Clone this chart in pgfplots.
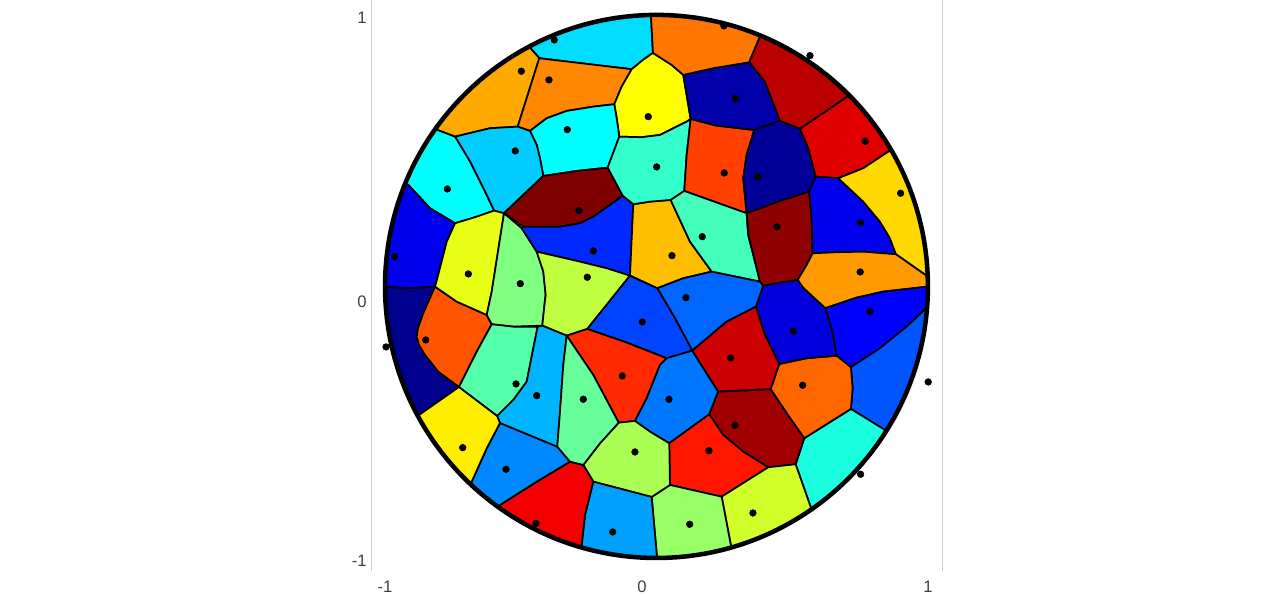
\documentclass[border=0pt]{standalone}
\usepackage{fontspec}
\setmainfont{Liberation Sans}
\usepackage{pgfplots}
\pgfplotsset{compat=1.18}

% one filled cell: r, g, b, outline (read off in image pixels, the filters map them to data units)
\newcommand\cell[4]{\addplot[fill={rgb,255:red,#1;green,#2;blue,#3},draw=black,line width=1.3pt,line join=round,forget plot] coordinates {#4} -- cycle;}

\begin{document}
\begin{tikzpicture}
\useasboundingbox (0,0) rectangle (954.75pt,446.25pt);
\begin{axis}[
  at={(278.6pt,18pt)}, anchor=south west,
  scale only axis, width=427.9pt, height=428.25pt,
  xmin=-1.05, xmax=1.052, ymin=-1.048, ymax=1.055,
  x filter/.expression={(x-656.5)/271.5},
  y filter/.expression={(286.5-y)/271.5},
  xtick={-1,-0.053,1}, xticklabels={-1,0,1},
  ytick={-1.007,-0.053,0.996}, yticklabels={-1,0,1},
  xtick pos=bottom, ytick pos=left,
  tick style={draw=none},
  separate axis lines,
  x axis line style={draw=none},
  y axis line style={draw=black!20,line width=0.7pt},
  axis on top,
  ticklabel style={font=\fontsize{12.5}{14}\selectfont,text=black!75},
  xticklabel style={yshift=-3.8pt},
  yticklabel style={xshift=0pt,yshift=-1pt},
]
% top ring of cells
\cell{0}{221}{255}{(530,47.7)(504.7,0)(650,-38)(651,16)(653,53)(643,60)(631.7,69.3)(539.3,58.3)}
\cell{255}{170}{0}{(530,47.7)(539.3,58.3)(517.7,126.7)(490,128.3)(455,136.7)(437.3,130)(393.5,98.7)(504.7,0)}
\cell{255}{136}{0}{(539.3,58.3)(631.7,69.3)(621.7,86.7)(614.3,104.3)(593.3,106.7)(566.7,111)(546.7,118.3)(530,131)(517.7,126.7)}
\cell{255}{255}{0}{(653,53)(643,60)(631.7,69.3)(621.7,86.7)(614.3,104.3)(616.7,118.3)(619.3,136.7)(641.7,137.3)(660,135)(670,130)(686.7,121.7)(690.7,119)(683.3,75)(671.7,65)}
\cell{0}{255}{255}{(530,131)(546.7,118.3)(566.7,111)(593.3,106.7)(614.3,104.3)(616.7,118.3)(619.3,136.7)(607.7,167.7)(576.7,171)(543.3,176)(540,158.3)(536.7,145)}
\cell{0}{204}{255}{(455,136.7)(490,128.3)(517.7,126.7)(530,131)(536.7,145)(540,158.3)(543.3,176)(526.7,191.7)(504,213.3)(494,210.7)(483.3,188.3)(470,161.7)}
\cell{0}{255}{255}{(437.3,130)(455,136.7)(470,161.7)(483.3,188.3)(494,210.7)(476.7,216.7)(455,223.3)(430,208.3)(408.3,185)(358.7,164.7)(393.5,98.7)}
\cell{0}{0}{238}{(408.3,185)(430,208.3)(455,223.3)(446.7,241.7)(437.3,278.3)(435,286.7)(410,288.3)(386,287)(332,287)(358.7,164.7)}
\cell{0}{0}{143}{(386,287)(410,288.3)(435,286.7)(423.3,313.3)(418,328)(416.7,337)(419,345)(425,355)(438.3,371.7)(459,387)(420,414.3)(372.7,439.9)(332,287)}
\cell{255}{85}{0}{(435,286.7)(456.7,301.7)(486.7,315)(491.7,324.3)(476.7,351.7)(459,387)(438.3,371.7)(425,355)(419,345)(416.7,337)(418,328)(423.3,313.3)}
\cell{230}{255}{20}{(494,210.7)(476.7,216.7)(455,223.3)(446.7,241.7)(437.3,278.3)(435,286.7)(456.7,301.7)(486.7,315)(491.7,291.7)(504,213.3)}
\cell{128}{255}{128}{(504,213.3)(521.7,228.3)(536.7,251.7)(543.3,271.7)(545.7,295)(545,300)(542.3,325.7)(513.3,326.7)(491.7,324.3)(486.7,315)(491.7,291.7)}
\cell{128}{0}{0}{(504,213.3)(526.7,191.7)(543.3,176)(576.7,171)(607.7,167.7)(622.7,195.7)(606.7,207.3)(593.3,216.7)(580,223.3)(560,226.7)(523.3,226.7)}
\cell{0}{40}{255}{(523.3,226.7)(560,226.7)(580,223.3)(593.3,216.7)(606.7,207.3)(622.7,195.7)(633.3,204.3)(630,275.7)(606.7,268.3)(580,261.7)(536.7,251.7)(521.7,228.3)}
\cell{191}{255}{64}{(536.7,251.7)(580,261.7)(606.7,268.3)(630,275.7)(587.3,329)(566.7,335.7)(542.3,325.7)(545,300)(545.7,295)(543.3,271.7)}
\cell{255}{191}{0}{(633.3,204.3)(650,201.7)(670.7,200)(690,241.7)(711.7,271.7)(683.3,278.3)(657.3,288.3)(630,275.7)}
\cell{51}{255}{204}{(619.3,136.7)(641.7,137.3)(660,135)(670,130)(686.7,121.7)(690.7,119)(686.7,155)(684.3,191)(670.7,200)(650,201.7)(633.3,204.3)(622.7,195.7)(607.7,167.7)}
\cell{255}{64}{0}{(690.7,119)(716.7,125.7)(754.3,130)(746.7,155)(743.3,178.3)(746.7,213.3)(684.3,191)(686.7,155)}
\cell{68}{255}{187}{(684.3,191)(746.7,213.3)(748.3,235)(760,281.7)(711.7,271.7)(690,241.7)(670.7,200)}
\cell{0}{0}{170}{(683.3,75)(713.3,68.3)(749.3,62.3)(765,81.7)(780,121)(754.3,130)(716.7,125.7)(690.7,119)}
\cell{255}{119}{0}{(651,16)(650,-38)(780.7,-13.3)(760,36.7)(749.3,62.3)(713.3,68.3)(683.3,75)(671.7,65)(653,53)}
\cell{187}{0}{0}{(760,36.7)(780.7,-13.3)(887.5,57.5)(849,95.7)(800,129)(780,121)(765,81.7)(749.3,62.3)}
\cell{224}{0}{0}{(849,95.7)(887.5,57.5)(936.7,123.5)(890,150.7)(863.3,168.3)(838.3,178.3)(815.7,176.7)(808.3,148.3)(800,129)}
\cell{0}{0}{153}{(754.3,130)(780,121)(800,129)(808.3,148.3)(815.7,176.7)(809.3,191.7)(783.3,200)(746.7,213.3)(743.3,178.3)(746.7,155)}
\cell{143}{0}{0}{(746.7,213.3)(783.3,200)(809.3,191.7)(811.7,218.3)(812.7,253.3)(806.7,265)(797.7,280)(763.3,285.7)(760,281.7)(748.3,235)}
\cell{0}{0}{238}{(815.7,176.7)(838.3,178.3)(863.3,201.7)(880,221.7)(890,238.3)(896,254.3)(863.3,251.7)(836.7,252.3)(812.7,253.3)(811.7,218.3)(809.3,191.7)}
\cell{255}{216}{0}{(890,150.7)(936.7,123.5)(981,274)(927,276)(896,254.3)(890,238.3)(880,221.7)(863.3,201.7)(838.3,178.3)(863.3,168.3)}
\cell{255}{153}{0}{(812.7,253.3)(836.7,252.3)(863.3,251.7)(896,254.3)(927,276)(981,274)(981.5,286.7)(927.3,286.7)(883.3,291.7)(856.7,297.7)(825.3,308.3)(803.3,288)(797.7,280)(806.7,265)}
% lower half
\cell{0}{0}{255}{(825.3,308.3)(856.7,297.7)(883.3,291.7)(927.3,286.7)(981.5,286.7)(982.3,310.7)(928,306.7)(906.7,326.7)(880,348.3)(851,367.3)(836.7,355.7)(831.7,328.3)}
\cell{0}{85}{255}{(928,306.7)(982.3,310.7)(930.7,458.7)(885,430)(851,409)(852.7,388.3)(851,367.3)(880,348.3)(906.7,326.7)}
\cell{26}{255}{224}{(851,409)(885,430)(930.7,458.7)(842,552)(811,507.7)(795.7,464.3)(804.3,438.3)}
\cell{255}{102}{0}{(779.3,364)(806.7,358.3)(836.7,355.7)(851,367.3)(852.7,388.3)(851,409)(804.3,438.3)(786.7,413.3)(770.7,389.3)}
\cell{0}{0}{221}{(763.3,285.7)(797.7,280)(803.3,288)(825.3,308.3)(831.7,328.3)(836.7,355.7)(806.7,358.3)(779.3,364)(765,335)(756,306.7)}
\cell{0}{102}{255}{(657.3,288.3)(683.3,278.3)(711.7,271.7)(760,281.7)(763.3,285.7)(756,306.7)(726.7,321.7)(692.3,350.7)(675,318.3)}
\cell{0}{68}{255}{(630,275.7)(657.3,288.3)(675,318.3)(692.3,350.7)(666.7,358.3)(625,342)(587.3,329)}
\cell{255}{42}{0}{(566.7,335.7)(587.3,329)(625,342)(666.7,358.3)(660,365)(646.7,398.3)(635,421)(618.7,422.7)(593.3,375)}
\cell{0}{119}{255}{(666.7,358.3)(692.3,350.7)(718.3,391.7)(709.3,414.3)(669.3,443.3)(650,431.7)(635,421)(646.7,398.3)(660,365)}
\cell{204}{0}{0}{(692.3,350.7)(726.7,321.7)(756,306.7)(765,335)(779.3,364)(770.7,389.3)(718.3,391.7)}
\cell{160}{0}{0}{(718.3,391.7)(770.7,389.3)(786.7,413.3)(804.3,438.3)(795.7,464.3)(768.3,467.3)(743.3,451.7)(723.3,435)(709.3,414.3)}
\cell{255}{21}{0}{(709.3,414.3)(723.3,435)(743.3,451.7)(768.3,467.3)(721.7,496.7)(670,485)(669.3,443.3)}
\cell{208}{255}{42}{(721.7,496.7)(768.3,467.3)(795.7,464.3)(811,507.7)(842,552)(746,597.5)(731,545.7)}
\cell{153}{255}{102}{(670,485)(721.7,496.7)(731,545.7)(746,597.5)(657,611)(657,557)(651.7,497)}
\cell{170}{255}{85}{(618.7,422.7)(635,421)(650,431.7)(669.3,443.3)(670,485)(651.7,497)(593.3,481.7)(583.3,465)(600,443.3)}
\cell{0}{160}{255}{(593.3,481.7)(651.7,497)(657,557)(657,611)(566.7,596.7)(581.7,545)(585,515)}
\cell{245}{0}{0}{(570,461.7)(583.3,465)(593.3,481.7)(585,515)(581.7,545)(566.7,596.7)(468.7,548.7)(500,505)(536.7,481.7)}
\cell{0}{136}{255}{(500,423)(557.3,446.7)(570,461.7)(536.7,481.7)(500,505)(468.7,548.7)(434.7,520.7)(471.7,481.7)(486.7,448.3)}
\cell{255}{238}{0}{(459,387)(497.3,416)(500,423)(486.7,448.3)(471.7,481.7)(434.7,520.7)(372.7,439.9)(420,414.3)}
\cell{85}{255}{170}{(491.7,324.3)(513.3,326.7)(537.7,326.7)(533.3,348.3)(526.7,381.7)(513.3,400)(497.3,416)(459,387)(476.7,351.7)}
\cell{0}{180}{255}{(537.7,326.7)(542.3,325.7)(566.7,335.7)(563.3,365)(560,411.7)(557.3,446.7)(500,423)(497.3,416)(513.3,400)(526.7,381.7)(533.3,348.3)}
\cell{102}{255}{153}{(566.7,335.7)(593.3,375)(618.7,422.7)(600,443.3)(583.3,465)(570,461.7)(557.3,446.7)(560,411.7)(563.3,365)}
% everything outside the disc, then its rim
\fill[white,even odd rule] (axis cs:-2,-2) rectangle (axis cs:2,2) (axis cs:0,0) circle[radius=1];
\draw[black,line width=3.4pt] (axis cs:0,0) circle[radius=1];
% sample points
\addplot[only marks,mark=*,mark size=2.5pt,black,forget plot] coordinates {
(554.3,40)(521.3,71.3)(549,80)(567.3,129.7)(515.3,151)(648.3,116.7)(656.7,167)(447.3,189)(579,210.7)(593.3,251)
(394.7,256.7)(468.3,274)(520.3,283.7)(587.3,277.3)(724,26)(810,55.7)(735.3,98.7)(865.3,141.3)(724.3,173)(758,177)
(900.7,193.3)(860.7,222.7)(702.3,236.7)(777,227)(672,255.7)(860.3,272)(386,347)(425.7,340)(642.3,322)(516,384)
(536.7,395.7)(583.3,399.3)(622.3,376)(462.7,447.7)(506,469.3)(635,452)(536,523.3)(612.7,532)(686,297.7)(870,311.3)
(793.3,331.3)(730.7,358)(802.7,385.3)(928.3,382)(669,399.3)(735,425.3)(709,450.7)(860.7,474.3)(753,513)(689.7,524.3)
};
\end{axis}
\end{tikzpicture}
\end{document}
